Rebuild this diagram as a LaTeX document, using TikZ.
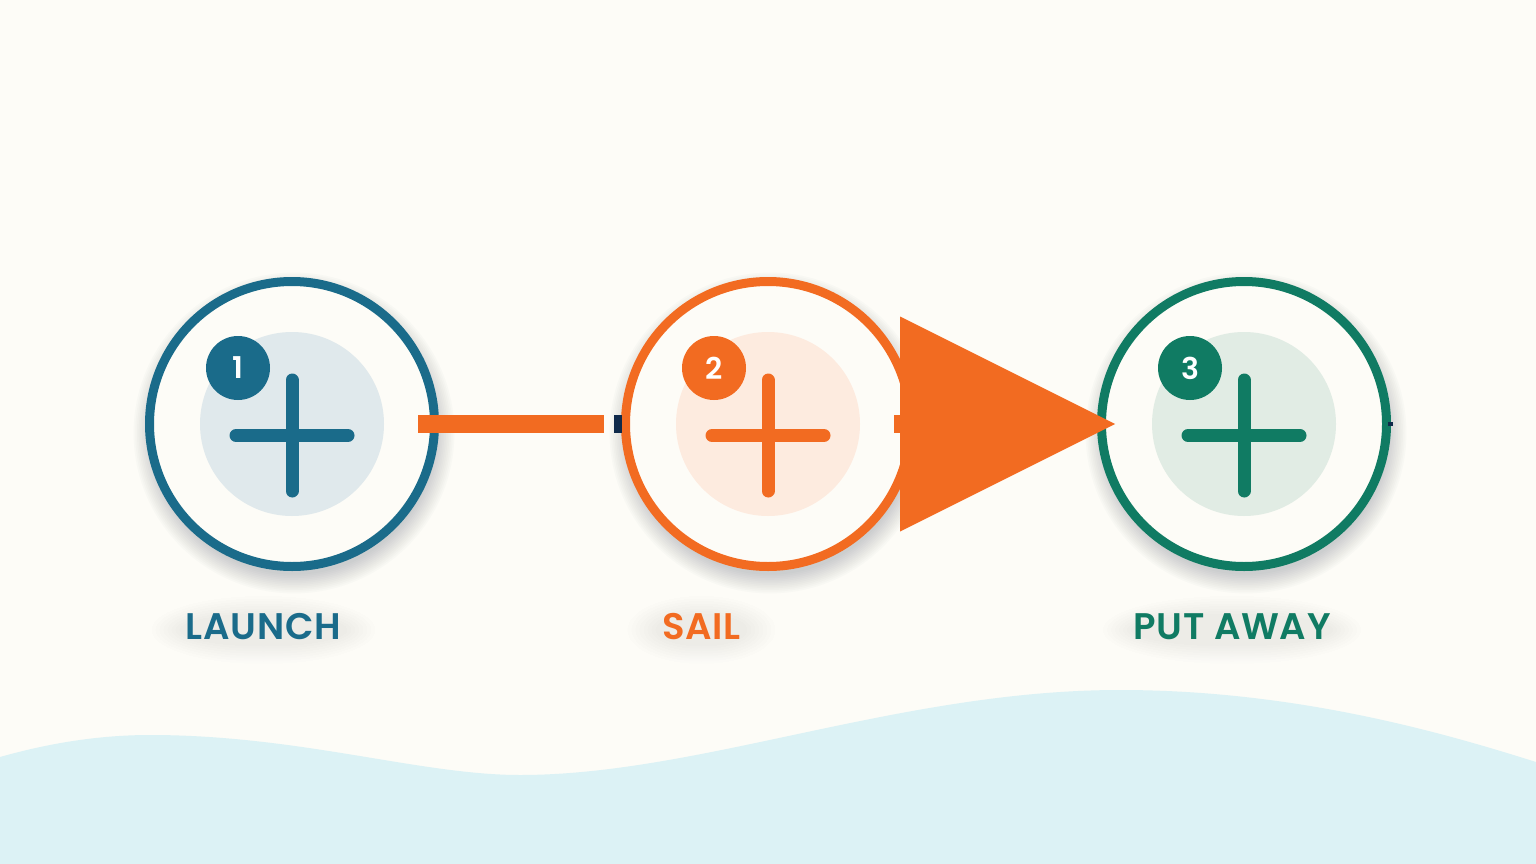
\documentclass[tikz,border=0pt]{standalone}
\usepackage{fontspec}
\newfontfamily\labfont{Poppins SemiBold}[LetterSpace=2]
\newfontfamily\numfont{Poppins SemiBold}
\usetikzlibrary{arrows.meta}
\definecolor{bg}{HTML}{FDFCF7}
\definecolor{wave}{HTML}{DCF2F5}
\definecolor{cblue}{HTML}{1A6B8A}
\definecolor{corange}{HTML}{F26B21}
\definecolor{cgreen}{HTML}{107B63}
\definecolor{tblue}{HTML}{E0E9EC}
\definecolor{torange}{HTML}{FDEBDF}
\definecolor{tgreen}{HTML}{E1ECE4}
\definecolor{navy}{HTML}{0F2A4A}
\definecolor{shade}{HTML}{505868}
\tikzset{
  ring/.style={circle, minimum size=285pt, inner sep=0pt, line width=9pt, draw=#1, fill=bg},
  softshadow/.style={fill=shade, fill opacity=0.022},
  tint/.style={circle, minimum size=184pt, inner sep=0pt, fill=#1},
  plusbar/.style={draw=#1, line width=13pt, line cap=round},
  badge/.style={circle, minimum size=64pt, inner sep=0pt, fill=#1, text=white, font=\numfont\fontsize{30}{32}\selectfont},
  lab/.style={anchor=base, text=#1, font=\labfont\fontsize{37}{40}\selectfont, inner sep=0pt},
  conn/.style={draw=#1, line width=18pt}
}
\begin{document}
\begin{tikzpicture}[x=1pt,y=-1pt]
\useasboundingbox (0,0) rectangle (1536,864);
\fill[bg] (0,0) rectangle (1536,864);
% wave
\fill[wave] (0,757) .. controls (60,740) and (110,735) .. (150,735)
  .. controls (300,735) and (420,775) .. (520,775)
  .. controls (700,775) and (900,690) .. (1120,690)
  .. controls (1300,690) and (1450,735) .. (1536,762)
  -- (1536,864) -- (0,864) -- cycle;
% soft label shadows
\foreach \lx/\lw in {263.5/80, 701.5/42, 1232/97}{
  \foreach \k in {1,...,8}{
    \fill[shade, fill opacity=0.005] (\lx,630) ellipse[x radius=\lw+\k*4, y radius=14+\k*2.5];
  }
}
% circles
\foreach \i/\x/\c/\t in {1/292/cblue/tblue, 2/768/corange/torange, 3/1244/cgreen/tgreen}{
  \foreach \k in {1,...,12}{
    \fill[softshadow] (\x+2,433) circle[radius=140+\k*1.7];
  }
  \node[ring=\c] (c\i) at (\x,424) {};
  \node[tint=\t] (t\i) at (\x,424) {};
  \draw[plusbar=\c] (\x-56,435.5) -- (\x+56,435.5) (\x,380) -- (\x,491);
  \node[badge=\c] (b\i) at (\x-54,368) {\i};
}
% connectors
\draw[conn=corange, shorten <=126pt, shorten >=164pt] (c1.center) -- (c2.center);
\draw[conn=navy, shorten <=322pt, shorten >=146pt] (c1.center) -- (c2.center);
\draw[conn=corange, shorten <=126pt, shorten >=129pt,
  -{Triangle[length=215pt,width=215pt,line width=0pt]}] (c2.center) -- (c3.center);
\fill[navy] (1388,422) rectangle (1393,426);
% labels
\node[lab=cblue] (l1) at (263.5,639) {LAUNCH};
\node[lab=corange] (l2) at (701.5,639) {SAIL};
\node[lab=cgreen] (l3) at (1232,639) {PUT AWAY};
\end{tikzpicture}
\end{document}
